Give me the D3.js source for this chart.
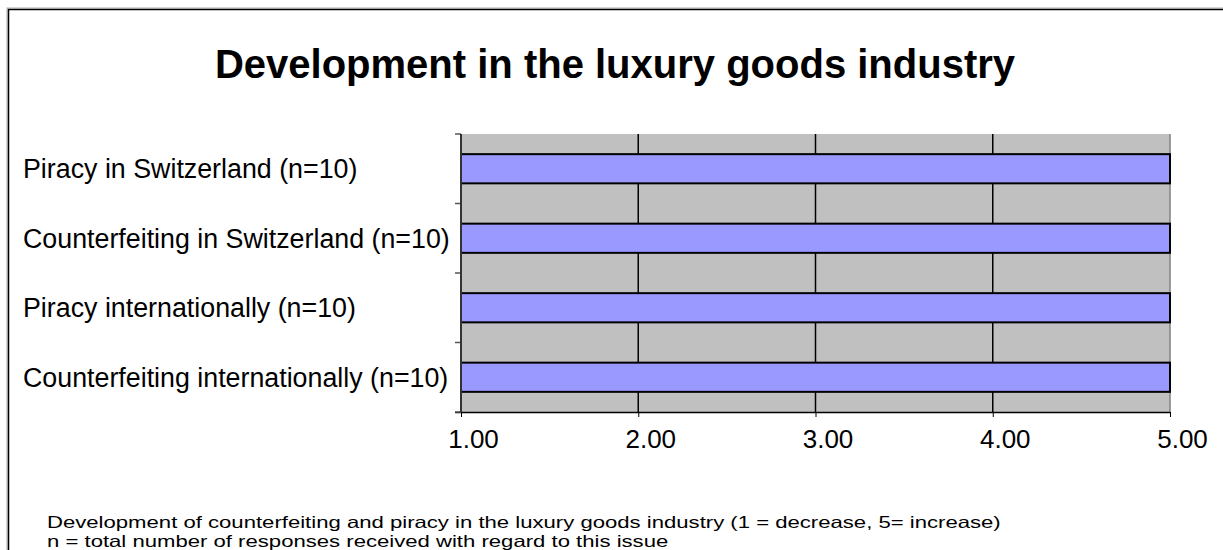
<!DOCTYPE html>
<html>
<head>
<meta charset="utf-8">
<script src="https://cdn.jsdelivr.net/npm/d3@7"></script>
<style>
  html, body { margin: 0; padding: 0; background: #fff; }
  svg { display: block; font-family: "Liberation Sans", Arial, sans-serif; }
</style>
</head>
<body>
<svg id="chart" width="1223" height="550"></svg>
<script>
// Survey items (top to bottom) and their mean score on a 1–5 scale
const categories = [
  "Piracy in Switzerland (n=10)",
  "Counterfeiting in Switzerland (n=10)",
  "Piracy internationally (n=10)",
  "Counterfeiting internationally (n=10)"
];
const values = [5.00, 5.00, 5.00, 5.00];
const xTicks = [1, 2, 3, 4, 5];
const title = "Development in the luxury goods industry";
const notes = [
  "Development of counterfeiting and piracy in the luxury goods industry (1 = decrease, 5= increase)",
  "n = total number of responses received with regard to this issue"
];

const svg = d3.select("#chart");

// outer frame
svg.append("rect")
  .attr("x", 7).attr("y", 8).attr("width", 1230).attr("height", 560)
  .attr("fill", "none").attr("stroke", "#aaa").attr("stroke-width", 1);
svg.append("rect")
  .attr("x", 8.5).attr("y", 9.5).attr("width", 1230).attr("height", 560)
  .attr("fill", "none").attr("stroke", "#000").attr("stroke-width", 1.5);

const plot = { left: 461, right: 1170, top: 134, bottom: 412 };

const x = d3.scaleLinear().domain([1, 5]).range([plot.left, plot.right]);
const y = d3.scaleBand().domain(categories).range([plot.top, plot.bottom])
  .paddingInner(0.58).paddingOuter(0.29);
const yb = d3.scaleBand().domain(categories).range([plot.top, plot.bottom]);

// title
svg.append("text")
  .attr("x", 615).attr("y", 78)
  .attr("text-anchor", "middle")
  .attr("font-size", 40).attr("font-weight", "bold")
  .text(title);

// plot background
svg.append("rect")
  .attr("x", plot.left).attr("y", plot.top)
  .attr("width", plot.right - plot.left).attr("height", plot.bottom - plot.top)
  .attr("fill", "#c0c0c0");

// vertical gridlines
svg.append("g").selectAll("line")
  .data(xTicks.slice(1, -1))
  .join("line")
  .attr("x1", d => x(d)).attr("x2", d => x(d))
  .attr("y1", plot.top).attr("y2", plot.bottom)
  .attr("stroke", "#000").attr("stroke-width", 1.5);

// right edge of plot area
svg.append("line")
  .attr("x1", plot.right).attr("x2", plot.right)
  .attr("y1", plot.top).attr("y2", plot.bottom)
  .attr("stroke", "#808080").attr("stroke-width", 1.5);

// bars
svg.append("g").selectAll("rect")
  .data(categories.map((c, i) => ({ c, v: values[i] })))
  .join("rect")
  .attr("x", x(1))
  .attr("y", d => y(d.c))
  .attr("width", d => x(d.v) - x(1))
  .attr("height", y.bandwidth())
  .attr("fill", "#9999ff")
  .attr("stroke", "#000").attr("stroke-width", 2);

// x axis
const xAxis = d3.axisBottom(x)
  .tickValues(xTicks)
  .tickFormat(d3.format(".2f"))
  .tickSize(5).tickSizeOuter(0);
const gx = svg.append("g")
  .attr("transform", `translate(0,${plot.bottom})`)
  .call(xAxis);
gx.select(".domain").attr("stroke", "#000").attr("stroke-width", 1.5)
  .attr("d", `M${plot.left - 6},0.5H${plot.right}`);
gx.selectAll(".tick line").attr("stroke", "#000");
gx.selectAll(".tick text")
  .attr("font-size", 26).attr("font-family", "Liberation Sans, Arial, sans-serif")
  .attr("fill", "#000").attr("x", 12).attr("y", 36).attr("dy", 0);

// y axis: tick marks at category boundaries
const boundaries = categories.map(c => yb(c)).concat([plot.bottom]);
svg.append("g").selectAll("line")
  .data(boundaries)
  .join("line")
  .attr("x1", plot.left - 6).attr("x2", plot.left)
  .attr("y1", d => d).attr("y2", d => d)
  .attr("stroke", "#555").attr("stroke-width", 1.5);
svg.append("line")
  .attr("x1", plot.left).attr("x2", plot.left)
  .attr("y1", plot.top).attr("y2", plot.bottom)
  .attr("stroke", "#333").attr("stroke-width", 2);

// category labels
svg.append("g").selectAll("text")
  .data(categories)
  .join("text")
  .attr("x", 23)
  .attr("y", d => yb(d) + yb.bandwidth() / 2)
  .attr("dy", "0.35em")
  .attr("text-anchor", "start")
  .attr("font-size", 26.8)
  .text(d => d);

// footnotes, set in a horizontally widened face
svg.append("g").selectAll("text")
  .data(notes)
  .join("text")
  .attr("x", 47)
  .attr("y", (d, i) => 528 + i * 19)
  .attr("font-size", 16.5)
  .text(d => d)
  .each(function () {
    const w = this.getComputedTextLength();
    d3.select(this)
      .attr("textLength", w * 1.34)
      .attr("lengthAdjust", "spacingAndGlyphs");
  });
</script>
</body>
</html>
